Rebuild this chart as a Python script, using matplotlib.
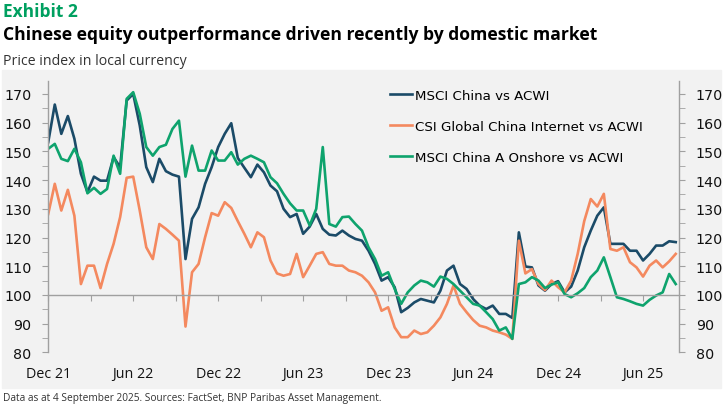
import pandas as pd
import matplotlib.pyplot as plt
from matplotlib.patches import Rectangle
from matplotlib.ticker import MultipleLocator

plt.rcParams['font.family'] = ['Open Sans', 'DejaVu Sans']

# fortnightly readings, 30 Dec 2021 -> 4 Sep 2025
dates = pd.date_range('2021-12-30', periods=97, freq='14D')

msci_china = [
    153.2, 166.3, 156.1, 162.3, 154.4, 142.2, 135.8, 141.2, 139.8, 139.8,
    148.0, 144.5, 167.7, 170.0, 159.0, 144.5, 139.3, 147.4, 143.1, 141.9,
    141.2, 112.5, 126.5, 130.5, 138.7, 144.5, 151.5, 156.1, 159.8, 147.7,
    144.3, 141.0, 145.4, 142.7, 138.1, 136.1, 130.0, 127.1, 128.2, 121.3,
    123.8, 128.2, 123.0, 121.0, 120.7, 122.4, 120.7, 119.5, 118.9, 115.4,
    110.8, 105.0, 106.2, 102.7, 94.0, 95.5, 97.4, 98.6, 98.0, 97.4,
    101.5, 108.5, 110.2, 103.8, 102.1, 98.6, 96.3, 95.1, 96.3, 93.4,
    93.4, 92.0, 121.8, 109.9, 109.6, 103.3, 101.5, 103.8, 104.8, 100.9,
    102.9, 108.5, 116.6, 122.4, 127.6, 130.5, 117.8, 117.8, 117.8, 115.4,
    115.4, 112.0, 114.3, 117.2, 117.2, 118.7, 118.4,
]

csi_internet = [
    128.2, 138.7, 129.4, 136.6, 127.6, 103.8, 110.2, 110.2, 102.4, 110.8,
    117.8, 127.1, 140.8, 141.2, 129.4, 116.6, 112.5, 124.7, 123.0, 121.0,
    118.9, 89.0, 107.9, 110.8, 120.1, 128.5, 127.6, 132.3, 130.3, 125.7,
    121.3, 116.6, 121.8, 120.1, 112.0, 107.5, 106.7, 107.3, 114.3, 106.2,
    110.2, 114.3, 114.9, 110.8, 110.2, 110.2, 108.5, 107.9, 106.7, 104.4,
    100.9, 94.5, 95.7, 88.7, 85.3, 85.3, 87.6, 86.4, 87.0, 89.3,
    92.2, 96.9, 103.3, 96.9, 94.0, 91.3, 89.3, 88.7, 87.6, 87.0,
    86.2, 84.7, 118.9, 107.5, 109.0, 103.8, 101.7, 105.0, 102.7, 100.9,
    105.0, 114.3, 125.7, 133.4, 130.8, 135.2, 116.0, 115.4, 116.6, 111.4,
    109.6, 106.4, 110.2, 112.0, 109.6, 111.7, 114.3,
]

msci_china_a = [
    150.9, 152.6, 147.4, 146.6, 150.9, 146.2, 135.4, 137.3, 135.2, 136.9,
    148.5, 142.2, 168.3, 170.6, 163.1, 151.5, 148.5, 151.5, 152.3, 157.8,
    160.7, 141.2, 152.0, 143.3, 143.3, 150.3, 146.8, 146.8, 149.7, 145.4,
    147.4, 148.5, 147.4, 146.2, 141.0, 138.9, 135.2, 131.9, 129.4, 129.4,
    124.2, 130.0, 151.5, 124.7, 123.8, 127.1, 127.3, 124.7, 122.4, 116.6,
    112.5, 106.7, 107.9, 102.1, 96.9, 100.9, 103.3, 105.0, 104.4, 102.9,
    106.4, 105.6, 103.8, 101.5, 99.2, 96.9, 96.3, 94.0, 91.6, 87.6,
    88.7, 84.7, 103.8, 104.4, 106.2, 105.0, 102.4, 103.6, 104.4, 100.3,
    99.2, 100.6, 102.4, 106.2, 108.5, 113.1, 106.2, 99.2, 98.6, 97.8,
    96.9, 96.3, 98.3, 99.8, 100.9, 107.3, 103.8,
]

series_names = ['MSCI China vs ACWI', 'CSI Global China Internet vs ACWI',
                'MSCI China A Onshore vs ACWI']
series_colors = ['#1b4b68', '#f4895f', '#0ea36d']

# quarterly ticks, only Dec / Jun labelled
tick_dates = pd.date_range('2021-12-30', periods=15, freq='91D')
tick_labels = ['Dec 21', '', 'Jun 22', '', 'Dec 22', '', 'Jun 23', '',
               'Dec 23', '', 'Jun 24', '', 'Dec 24', '', 'Jun 25']

W, H = 725, 406
fig = plt.figure(figsize=(W / 100, H / 100), dpi=100)

# grey chart panel
fig.patches.append(Rectangle((2 / W, 1 - 389 / H), 719 / W, 318 / H,
                             transform=fig.transFigure, color='#f2f2f2', zorder=-10))

fig.text(3 / W, 1 - 17 / H, 'Exhibit 2', fontsize=12.5, fontweight='bold',
         color='#00a060', va='baseline')
fig.text(3 / W, 1 - 40 / H, 'Chinese equity outperformance driven recently by domestic market',
         fontsize=12.6, fontweight='bold', color='black', va='baseline')
fig.text(3 / W, 1 - 65 / H, 'Price index in local currency', fontsize=10.2,
         color='#333333', va='baseline')
fig.text(3 / W, 1 - 401 / H,
         'Data as at 4 September 2025. Sources: FactSet, BNP Paribas Asset Management.',
         fontsize=7.3, color='#333333', va='baseline')

ax = fig.add_axes([48 / W, 1 - 353.4 / H, 631 / W, 271.4 / H])
ax.set_facecolor('none')
ax.set_zorder(5)

for vals, name, col in zip([msci_china, csi_internet, msci_china_a], series_names, series_colors):
    ax.plot(dates, vals, color=col, lw=1.9, label=name)

ax.set_xlim(dates[0] - pd.Timedelta(days=0.5), dates[-1] + pd.Timedelta(days=7))
ax.set_ylim(80, 174.5)

tick_font = 'DejaVu Sans'
ax.set_yticks(range(80, 171, 10))
ax.yaxis.set_minor_locator(MultipleLocator(5))
ax.yaxis.set_ticks_position('both')
ax.tick_params(axis='y', which='both', direction='out', length=4, color='#a0a0a0',
               labelleft=True, labelright=True, labelsize=10.3, labelcolor='#111111',
               pad=8)

ax.set_xticks(tick_dates)
ax.set_xticklabels(tick_labels)
ax.tick_params(axis='x', direction='out', length=4, color='#a0a0a0',
               labelsize=10.3, labelcolor='#111111', pad=47)
for lab in ax.get_xticklabels():
    lab.set_family(tick_font)
for t in ax.yaxis.get_major_ticks():
    t.label1.set_family(tick_font)
    t.label2.set_family(tick_font)

ax.spines['top'].set_visible(False)
ax.spines['bottom'].set_position(('data', 100))
for s in ['left', 'right', 'bottom']:
    ax.spines[s].set_color('#a0a0a0')
    ax.spines[s].set_linewidth(1)

ax.legend(loc='upper left', bbox_to_anchor=(390 / W, 1 - 90 / H),
          bbox_transform=fig.transFigure, frameon=False,
          prop={'family': tick_font, 'size': 9.6},
          handlelength=1.65, handletextpad=0.25, labelspacing=1.35,
          borderpad=0, borderaxespad=0)

fig.savefig('out.png', dpi=100)
